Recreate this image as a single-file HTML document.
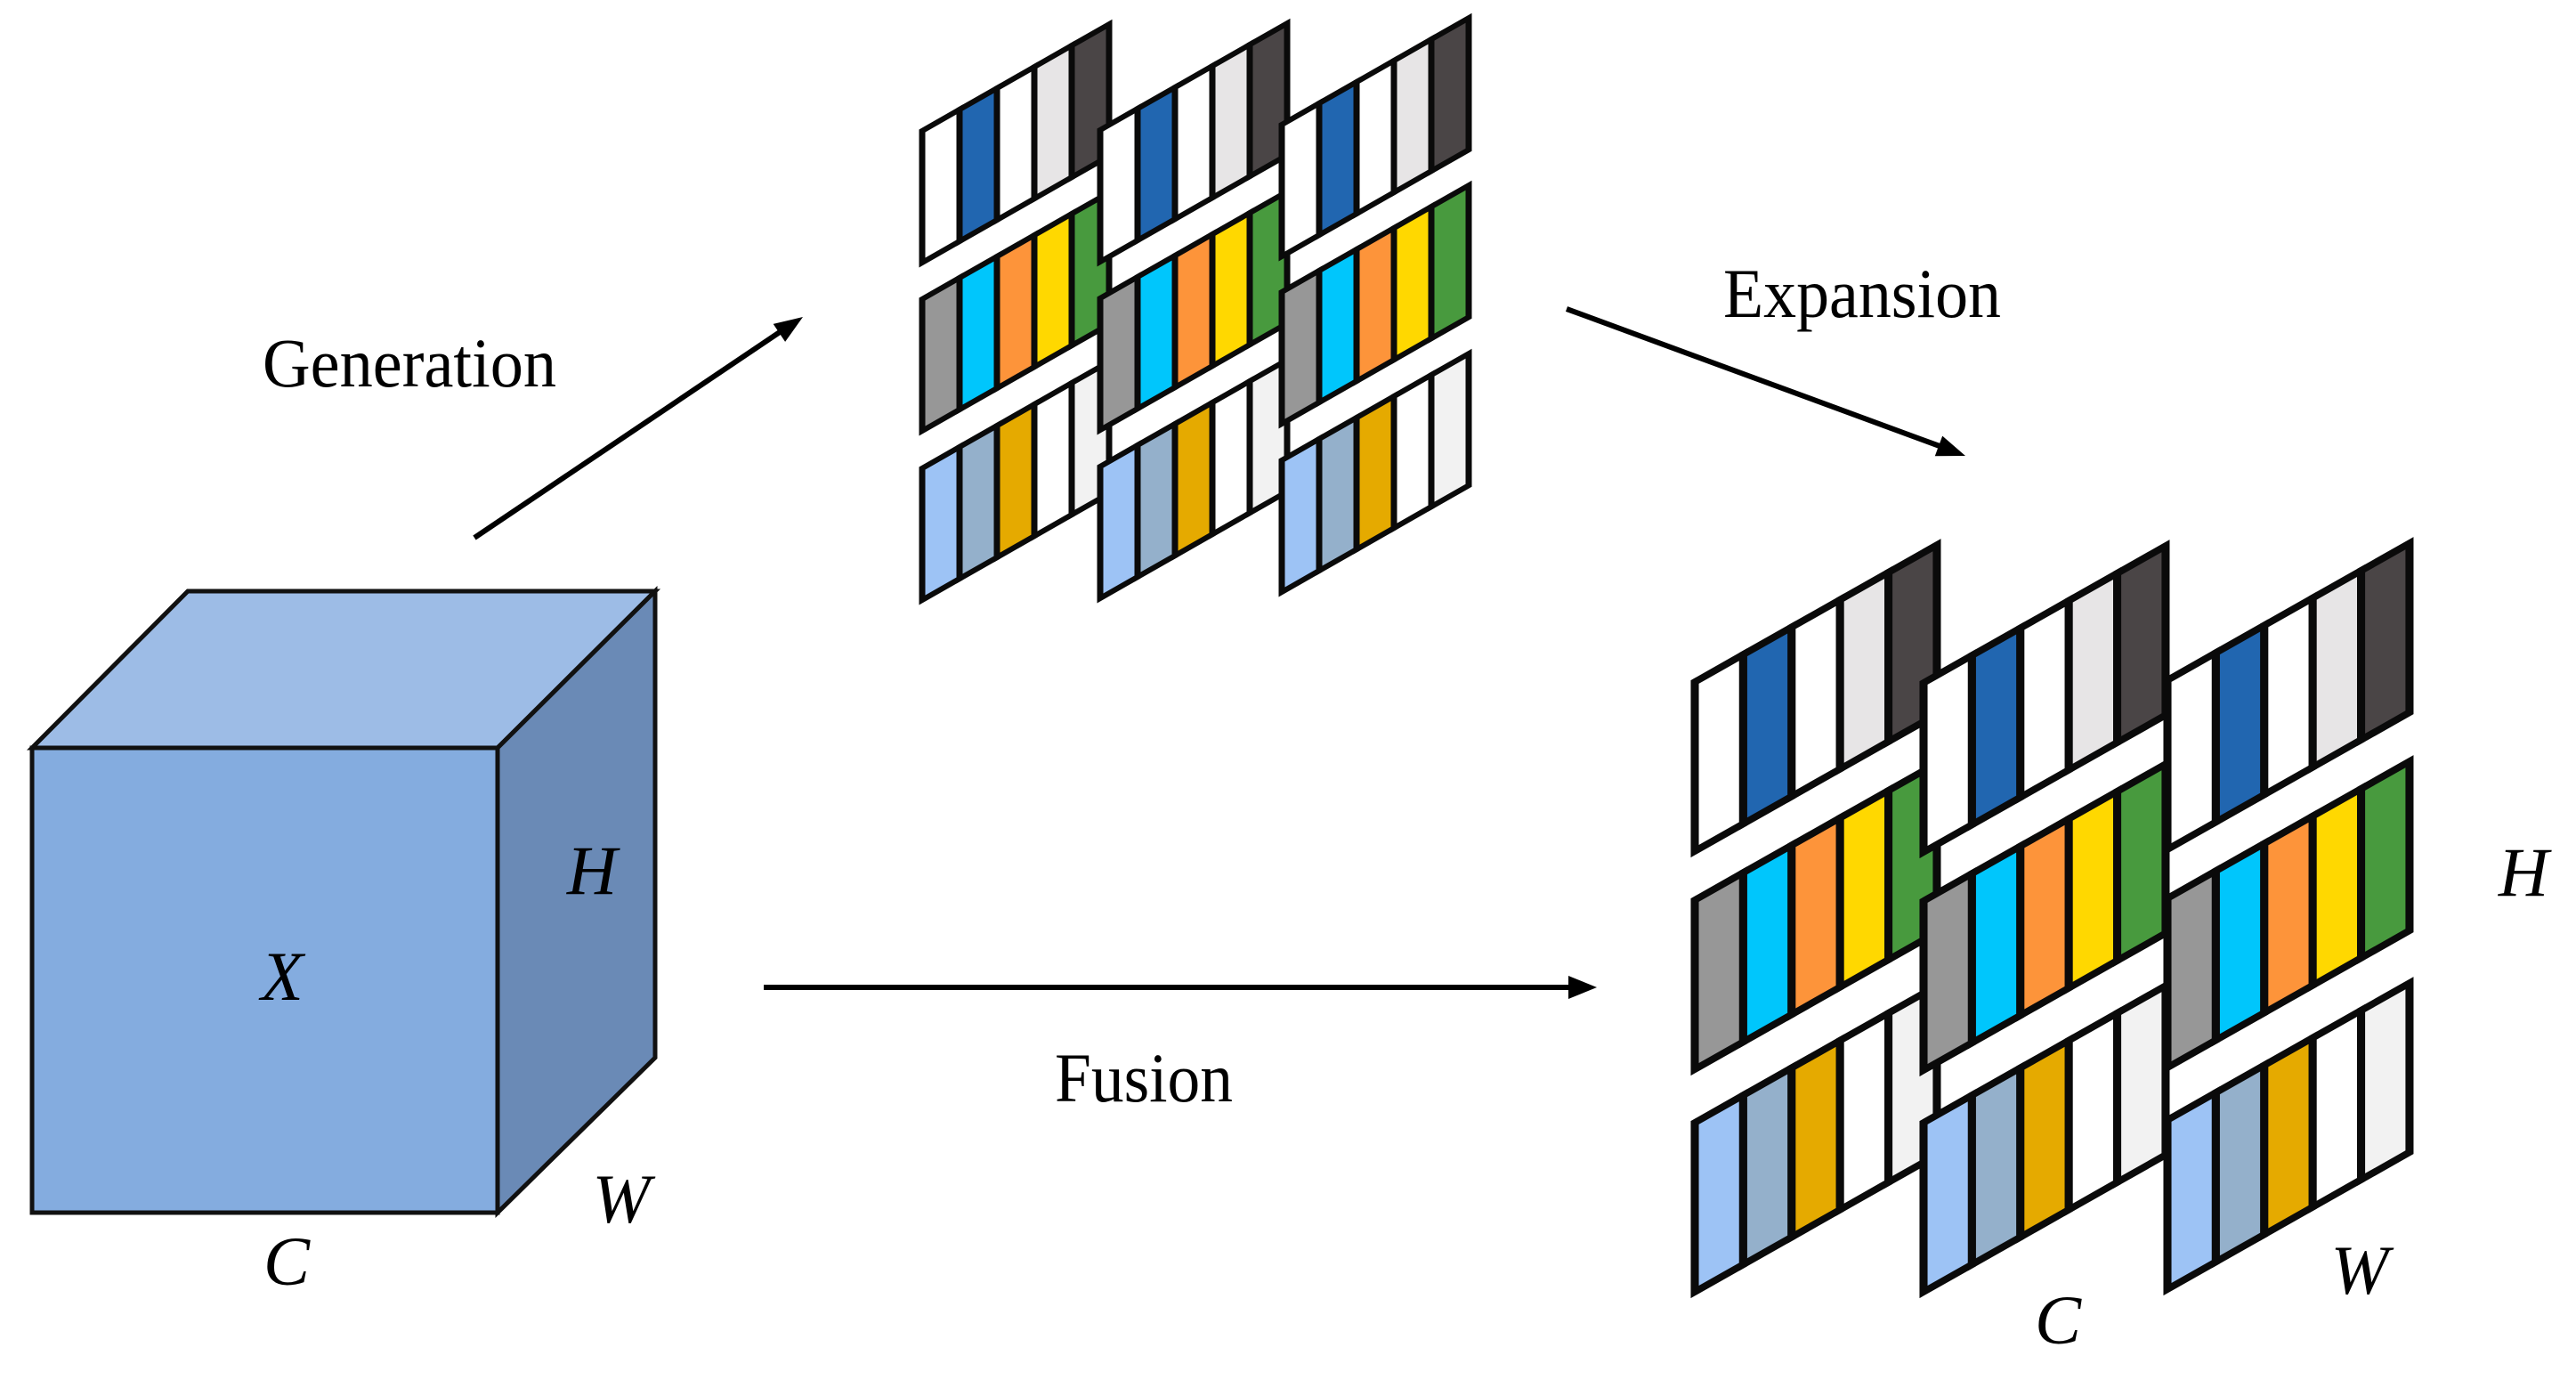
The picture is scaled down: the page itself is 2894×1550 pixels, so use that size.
<!DOCTYPE html>
<html><head><meta charset="utf-8"><style>html,body{margin:0;padding:0;background:#fff}svg{display:block}</style></head>
<body>
<svg xmlns="http://www.w3.org/2000/svg" width="2894" height="1550" viewBox="0 0 2894 1550">
<defs>
<g id="s1" transform="skewY(-29.7)" stroke="#0a0a0a" stroke-width="7" stroke-linejoin="miter">
<rect x="0" y="0" width="42" height="148" fill="#ffffff"/>
<rect x="42" y="0" width="42" height="148" fill="#2166b0"/>
<rect x="84" y="0" width="42" height="148" fill="#ffffff"/>
<rect x="126" y="0" width="42" height="148" fill="#e7e5e6"/>
<rect x="168" y="0" width="42" height="148" fill="#4a4546"/>
</g>
<g id="s2" transform="skewY(-29.7)" stroke="#0a0a0a" stroke-width="7" stroke-linejoin="miter">
<rect x="0" y="0" width="42" height="148" fill="#979797"/>
<rect x="42" y="0" width="42" height="148" fill="#00c6fc"/>
<rect x="84" y="0" width="42" height="148" fill="#fd943a"/>
<rect x="126" y="0" width="42" height="148" fill="#ffd800"/>
<rect x="168" y="0" width="42" height="148" fill="#489a3e"/>
</g>
<g id="s3" transform="skewY(-29.7)" stroke="#0a0a0a" stroke-width="7" stroke-linejoin="miter">
<rect x="0" y="0" width="42" height="148" fill="#9dc3f5"/>
<rect x="42" y="0" width="42" height="148" fill="#94b0cb"/>
<rect x="84" y="0" width="42" height="148" fill="#e5aa00"/>
<rect x="126" y="0" width="42" height="148" fill="#ffffff"/>
<rect x="168" y="0" width="42" height="148" fill="#f2f2f2"/>
</g>
</defs>

<g stroke="#111" stroke-width="5" stroke-linejoin="miter">
<polygon points="36,840 211,664 736,664 559,840" fill="#9dbce6"/>
<polygon points="559,840 736,664 736,1188 559,1362" fill="#6a8ab6"/>
<rect x="36" y="840" width="523" height="522" fill="#84acdf"/>
</g>
<g font-family="Liberation Serif, serif" font-style="italic" font-size="78" fill="#000" text-anchor="middle">
<text x="317" y="1123">X</text>
<text x="665" y="1004">H</text>
<text x="698" y="1373">W</text>
<text x="322" y="1443">C</text>
</g>

<use href="#s1" transform="translate(1036,147)"/>
<use href="#s2" transform="translate(1036,336)"/>
<use href="#s3" transform="translate(1036,526)"/>
<use href="#s1" transform="translate(1236,146)"/>
<use href="#s2" transform="translate(1236,335)"/>
<use href="#s3" transform="translate(1236,524)"/>
<use href="#s1" transform="translate(1440,140)"/>
<use href="#s2" transform="translate(1440,328)"/>
<use href="#s3" transform="translate(1440,517)"/>

<g transform="translate(1904,766) scale(1.295,1.284)"><use href="#s1"/></g>
<g transform="translate(1904,1011) scale(1.295,1.284)"><use href="#s2"/></g>
<g transform="translate(1904,1261) scale(1.295,1.284)"><use href="#s3"/></g>
<g transform="translate(2161,767) scale(1.295,1.284)"><use href="#s1"/></g>
<g transform="translate(2161,1012) scale(1.295,1.284)"><use href="#s2"/></g>
<g transform="translate(2161,1261) scale(1.295,1.284)"><use href="#s3"/></g>
<g transform="translate(2435,764) scale(1.295,1.284)"><use href="#s1"/></g>
<g transform="translate(2435,1009) scale(1.295,1.284)"><use href="#s2"/></g>
<g transform="translate(2435,1258) scale(1.295,1.284)"><use href="#s3"/></g>

<g font-family="Liberation Serif, serif" font-style="italic" font-size="78" fill="#000" text-anchor="middle">
<text x="2835" y="1006">H</text>
<text x="2312" y="1509">C</text>
<text x="2651" y="1453">W</text>
</g>

<g stroke="#000" stroke-width="6" fill="none" stroke-linecap="butt">
<line x1="533" y1="604" x2="876" y2="373"/>
<line x1="1760" y1="347" x2="2179" y2="501"/>
<line x1="858" y1="1109" x2="1764" y2="1109"/>
</g>
<g fill="#000">
<polygon points="902,356 882.1,383.9 868.7,363.9"/>
<polygon points="2208,512 2173.8,512.2 2182.2,489.6"/>
<polygon points="1794,1109 1762,1096 1762,1122"/>
</g>

<g font-family="Liberation Serif, serif" font-size="78" fill="#000">
<text x="295" y="434" textLength="330" lengthAdjust="spacingAndGlyphs">Generation</text>
<text x="1936" y="356" textLength="312" lengthAdjust="spacingAndGlyphs">Expansion</text>
<text x="1185" y="1237" textLength="200" lengthAdjust="spacingAndGlyphs">Fusion</text>
</g>
</svg>
</body></html>
